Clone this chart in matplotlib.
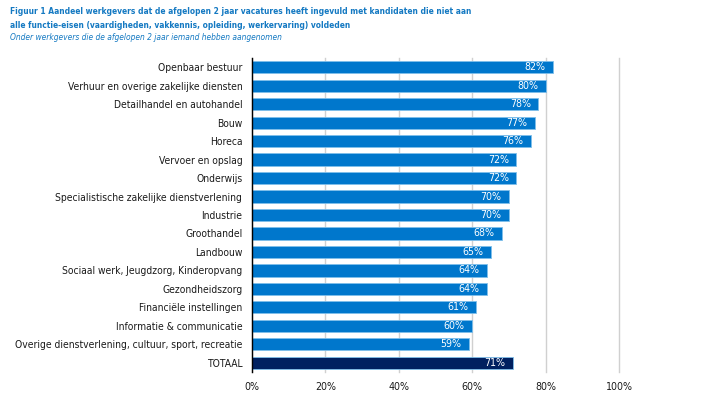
import matplotlib
matplotlib.use("Agg")
import matplotlib.pyplot as plt

plt.rcParams["font.family"] = ["DejaVu Sans"]
plt.rcParams["font.stretch"] = "condensed"

categories = ["Openbaar bestuur", "Verhuur en overige zakelijke diensten", "Detailhandel en autohandel",
              "Bouw", "Horeca", "Vervoer en opslag", "Onderwijs",
              "Specialistische zakelijke dienstverlening", "Industrie", "Groothandel", "Landbouw",
              "Sociaal werk, Jeugdzorg, Kinderopvang", "Gezondheidszorg", "Financiële instellingen",
              "Informatie & communicatie", "Overige dienstverlening, cultuur, sport, recreatie", "TOTAAL"]
values = [82, 80, 78, 77, 76, 72, 72, 70, 70, 68, 65, 64, 64, 61, 60, 59, 71]
xticks = [0, 20, 40, 60, 80, 100]

W, H = 716, 394
fig = plt.figure(figsize=(W/100, H/100), dpi=100)
ax = fig.add_axes([252/W, 1-372/H, (619-252)/W, (372-58)/H])

colors = ["#0077CC"]*(len(values)-1) + ["#002060"]
ys = list(range(len(values)))
ax.barh(ys, values, height=0.66, color=colors, edgecolor="#7fbfea", linewidth=0.6, zorder=3)
for y, v in zip(ys, values):
    ax.text(v-2.0, y, f"{v}%", ha="right", va="center", color="white", fontsize=7.6, zorder=4)

ax.set_ylim(len(values)-0.5, -0.5)
ax.set_xlim(0, 100)
ax.set_yticks(ys)
ax.set_yticklabels(categories, fontsize=7.4, color="#1a1a1a")
ax.set_xticks(xticks)
ax.set_xticklabels([f"{t}%" for t in xticks], fontsize=7.6, color="#1a1a1a")
ax.tick_params(length=0, pad=7)
ax.tick_params(axis="y", pad=7)
ax.grid(axis="x", color="#d0d0d0", linewidth=1, zorder=0)
for g in ax.get_xgridlines():
    g.set_clip_on(False)
for s in ["top", "right", "bottom"]:
    ax.spines[s].set_visible(False)
ax.spines["left"].set_color("black")
ax.spines["left"].set_linewidth(1)
ax.spines["left"].set_zorder(5)

fig.text(10/W, 1-11/H, "Figuur 1 Aandeel werkgevers dat de afgelopen 2 jaar vacatures heeft ingevuld met kandidaten die niet aan",
         fontsize=6.05, fontweight="bold", color="#1479C2", va="center", ha="left")
fig.text(10/W, 1-25/H, "alle functie-eisen (vaardigheden, vakkennis, opleiding, werkervaring) voldeden",
         fontsize=6.05, fontweight="bold", color="#1479C2", va="center", ha="left")
fig.text(10/W, 1-38/H, "Onder werkgevers die de afgelopen 2 jaar iemand hebben aangenomen",
         fontsize=6.05, fontstyle="italic", color="#1479C2", va="center", ha="left")

fig.savefig("out.png", dpi=100)
